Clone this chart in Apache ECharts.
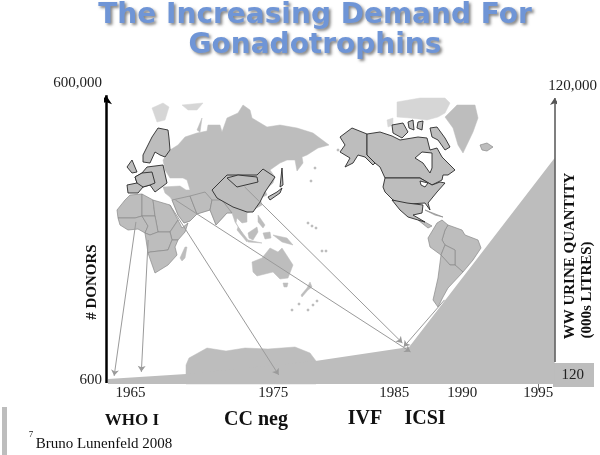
<!DOCTYPE html>
<html lang="en">
<head>
<meta charset="UTF-8">
<title>The Increasing Demand For Gonadotrophins</title>
<script src="https://cdn.jsdelivr.net/npm/echarts@6/dist/echarts.min.js"></script>
<style>
  html, body { margin: 0; padding: 0; background: #fff; }
  #chart { width: 600px; height: 455px; }
</style>
</head>
<body>
<div id="chart"></div>
<script>
var titleText = 'The Increasing Demand For\nGonadotrophins';
var xTickLabels = ['1965', '1975', '1985', '1990', '1995'];
// the slide's year axis is hand drawn, so the ticks are not evenly spaced
var xTickPlaces = [1964.8, 1975.3, 1984.2, 1989.2, 1994.8];
var donorTicks = [600, 600000];
var litreTicks = [120, 120000];
var milestones = ['WHO I', 'CC neg', 'IVF', 'ICSI'];

// urine quantity (000s litres, right axis)
var quantityYears = [1963.15, 1968.9, 1978.4, 1985.3, 1996];
var quantityValues = [109, 123, 168, 234, 21480];

// arrows from the map down to the time line: [from year, from donors, to year, to donors]
var arrowList = [
    [1965.2, 23660, 1963.6, 659],
    [1966.1, 15560, 1965.6, 723],
    [1967.7, 35150, 1975.7, 674],
    [1968.1, 39480, 1985.4, 1151],
    [1973.2, 53400, 1984.8, 1418],
    [1987.9, 3858, 1984.9, 1293]
];

// rough outlines of the background map
var asia = [[178,145],[185,137],[197,133],[207,131],[208,125],[220,125],[222,132],[227,118],[238,113],[243,105],[250,110],[252,118],[267,127],[280,125],[297,128],[313,133],[329,145],[318,148],[307,155],[302,157],[303,163],[297,171],[295,160],[287,160],[280,163],[270,170],[275,177],[273,183],[265,190],[267,195],[260,198],[262,205],[253,210],[250,212],[247,213],[247,222],[242,223],[237,218],[236,223],[242,233],[235,222],[232,213],[227,213],[216,225],[210,210],[197,214],[190,221],[184,223],[178,215],[172,200],[170,197],[165,193],[163,187],[180,186],[186,190],[190,190],[187,180],[183,178],[170,178],[165,170],[163,160],[170,150]];
var china = [[212,190],[227,175],[257,175],[263,169],[275,177],[265,192],[260,202],[253,212],[247,212],[233,207],[217,198]];
var mongolia = [[227,178],[238,175],[257,177],[258,182],[237,187]];
var arabia = [[172,200],[190,196],[197,214],[190,221],[184,223],[178,215]];
var iran = [[190,196],[205,192],[212,200],[210,210],[197,214]];
var india = [[210,210],[212,200],[222,200],[232,213],[227,213],[216,225]];
var scandinavia = [[143,155],[152,137],[158,128],[168,130],[169,138],[170,150],[165,157],[160,155],[155,152],[150,163],[143,162]];
var europe = [[147,167],[163,165],[167,183],[155,192],[150,185],[143,187],[138,193],[128,193],[127,185],[137,183],[135,177],[142,173]];
var germany = [[142,173],[152,172],[155,183],[150,185],[143,187],[137,183],[135,177]];
var britain = [[127,167],[132,160],[137,172],[132,173]];
var svalbard = [[152,108],[163,103],[169,107],[165,120],[157,122]];
var novaya = [[197,130],[202,118],[203,119],[200,132]];
var franzJosef = [[182,105],[203,103],[197,110],[188,110]];
var japan = [[268,197],[277,192],[282,188],[280,193],[270,200]];
var sakhalin = [[282,168],[283,185],[280,187]];

var afNorthWest = [[118,218],[117,210],[125,200],[130,195],[142,194],[142,216],[135,218]];
var afLibya = [[142,194],[153,200],[155,216],[142,216]];
var afSudan = [[153,200],[170,205],[178,220],[170,232],[158,232],[155,216]];
var afWest = [[118,218],[135,218],[142,216],[148,226],[145,233],[138,229],[128,230],[120,225]];
var afCentral = [[142,216],[155,216],[158,232],[150,235],[145,233],[148,226]];
var afHorn = [[170,232],[178,220],[182,228],[188,223],[185,232],[178,240],[172,240]];
var afCongo = [[145,233],[150,235],[158,232],[170,232],[172,240],[168,250],[150,252],[148,253]];
var afSouth = [[148,253],[150,252],[168,250],[172,240],[178,240],[175,247],[177,255],[168,265],[155,273]];
var madagascar = [[180,258],[185,247],[187,247],[185,258],[182,261]];

var sumatra = [[238,227],[248,240],[247,242],[237,230]];
var java = [[248,240],[262,243],[262,244],[248,242]];
var borneo = [[248,233],[257,227],[258,232],[253,240],[249,238]];
var philippines = [[258,215],[265,225],[263,228],[258,222]];
var sulawesi = [[263,233],[270,232],[271,238],[265,239]];
var newGuinea = [[273,235],[287,238],[293,245],[282,242]];
var australia = [[252,262],[262,258],[270,248],[278,252],[282,248],[293,265],[288,278],[280,279],[273,272],[257,276],[253,272]];
var tasmania = [[283,283],[288,283],[287,287],[284,287]];
var newZealand = [[310,282],[312,287],[308,290],[302,297],[301,295],[307,288]];
var pacificDots = [[292,310],[299,304],[308,310],[313,305],[317,301],[308,223],[312,226],[316,228],[322,251],[326,251],[338,150],[315,168],[311,181]];

var alaska = [[340,137],[352,128],[367,134],[367,155],[375,163],[373,165],[365,157],[358,155],[353,163],[345,167],[350,158],[340,152],[345,145]];
var canada = [[367,134],[380,132],[392,136],[400,140],[412,138],[418,137],[427,138],[430,150],[437,148],[442,157],[455,170],[448,175],[443,175],[442,180],[432,185],[420,178],[385,178],[380,167],[375,163],[367,155]];
var hudson = [[415,158],[422,152],[432,153],[432,168],[430,173],[423,163]];
var usa = [[385,178],[420,178],[432,185],[440,182],[445,183],[437,192],[428,203],[430,210],[425,203],[410,204],[405,205],[393,200],[385,192],[383,187]];
var lakes = [[420,181],[428,183],[425,187],[421,185]];
var baffin = [[430,128],[437,127],[445,138],[450,147],[445,150],[438,140],[432,137]];
var victoria = [[392,125],[403,123],[408,132],[402,138],[393,133]];
var arctic1 = [[408,122],[413,120],[414,130],[409,128]];
var arctic2 = [[418,122],[423,121],[422,130],[417,128]];
var arctic3 = [[387,120],[393,118],[393,125],[388,127]];
var arcticNorth = [[397,102],[420,98],[445,98],[450,103],[445,113],[438,117],[427,120],[410,118],[397,117]];
var greenland = [[445,117],[457,105],[475,105],[478,118],[473,132],[463,153],[458,145],[453,128]];
var iceland = [[480,145],[487,143],[493,147],[487,151],[482,150]];
var mexico = [[392,200],[407,203],[423,205],[422,213],[413,215],[425,222],[418,220],[408,217],[400,210]];
var cuba = [[425,210],[443,217],[435,215]];
var centralAm = [[418,220],[425,222],[432,226],[428,228]];
var brazil = [[448,225],[462,230],[465,235],[478,240],[481,248],[473,260],[463,272],[455,265],[455,250],[445,245],[442,240],[445,230]];
var andes = [[428,238],[437,223],[442,220],[448,225],[445,230],[442,240],[445,245],[441,255],[430,247]];
var bolivia = [[441,255],[445,245],[455,250],[455,265],[450,265]];
var argentina = [[441,255],[450,265],[455,265],[463,272],[448,288],[443,297],[438,307],[433,300],[438,278]];
var antarctica = [[186,384],[186,365],[189,358],[207,348],[226,351],[245,348],[268,349],[295,347],[310,353],[316,361],[316,384]];

// land with no visible border
var plainLand = {
    asia: asia, novaya: novaya, sumatra: sumatra, java: java, borneo: borneo, philippines: philippines,
    sulawesi: sulawesi, newGuinea: newGuinea, australia: australia, tasmania: tasmania, newZealand: newZealand,
    greenland: greenland, antarctica: antarctica, madagascar: madagascar
};
// the paler, broken up arctic islands
var paleLand = { svalbard: svalbard, franzJosef: franzJosef, arctic3: arctic3, arcticNorth: arcticNorth };
// countries with the thin gray borders
var borderLand = {
    arabia: arabia, iran: iran, india: india, afNorthWest: afNorthWest, afLibya: afLibya, afSudan: afSudan,
    afWest: afWest, afCentral: afCentral, afHorn: afHorn, afCongo: afCongo, afSouth: afSouth, iceland: iceland,
    cuba: cuba, centralAm: centralAm, brazil: brazil, andes: andes, bolivia: bolivia, argentina: argentina
};
// countries drawn with the heavy dark border on the slide
var darkLand = {
    china: china, mongolia: mongolia, scandinavia: scandinavia, europe: europe, germany: germany, britain: britain,
    japan: japan, sakhalin: sakhalin, alaska: alaska, canada: canada, usa: usa, mexico: mexico,
    baffin: baffin, victoria: victoria, arctic1: arctic1, arctic2: arctic2
};
var waterLand = { hudson: hudson, lakes: lakes };

var GRAY = '#bdbdbd';

pacificDots.forEach(function (p, i) {
    plainLand['dot' + i] = [[p[0] - 1, p[1] - 1], [p[0] + 1, p[1] - 1], [p[0] + 1, p[1] + 1], [p[0] - 1, p[1] + 1]];
});

function toFeatures(group) {
    return Object.keys(group).map(function (name) {
        var ring = group[name].map(function (p) { return [p[0], -p[1]]; });
        ring.push(ring[0]);
        return {
            type: 'Feature',
            properties: { name: name },
            geometry: { type: 'Polygon', coordinates: [ring] }
        };
    });
}

function regionStyle(group, style) {
    return Object.keys(group).map(function (name) {
        return { name: name, itemStyle: style, silent: true };
    });
}

echarts.registerMap('slideWorld', {
    type: 'FeatureCollection',
    features: toFeatures(plainLand).concat(toFeatures(paleLand)).concat(toFeatures(borderLand))
        .concat(toFeatures(darkLand)).concat(toFeatures(waterLand))
});

function slideText(text, x, y, size, extra) {
    var style = {
        text: text,
        font: (extra && extra.bold ? 'bold ' : '') + size + 'px "Liberation Serif"',
        fill: '#111',
        textAlign: 'center',
        textVerticalAlign: 'middle'
    };
    return { type: 'text', x: x, y: y, rotation: extra && extra.rotate ? Math.PI / 2 : 0, style: style, z: 10 };
}

var chart = echarts.init(document.getElementById('chart'));

chart.setOption({
    animation: false,
    backgroundColor: '#fff',
    title: {
        text: titleText,
        left: 310,
        top: -4,
        textAlign: 'center',
        textStyle: {
            fontFamily: 'DejaVu Sans',
            fontWeight: 'bold',
            fontSize: 28,
            lineHeight: 30,
            color: '#6f95d6',
            textShadowColor: 'rgba(70,70,70,0.65)',
            textShadowBlur: 3,
            textShadowOffsetX: 2,
            textShadowOffsetY: 2
        }
    },
    geo: {
        map: 'slideWorld',
        roam: false,
        silent: true,
        aspectScale: 1,
        left: 0,
        top: 0,
        width: 600,
        height: 455,
        boundingCoords: [[0, 0], [600, -455]],
        label: { show: false },
        itemStyle: { areaColor: GRAY, borderColor: GRAY, borderWidth: 0.5 },
        regions: regionStyle(darkLand, { areaColor: GRAY, borderColor: '#2a2a2a', borderWidth: 0.9 })
            .concat(regionStyle(borderLand, { areaColor: GRAY, borderColor: '#8a8a8a', borderWidth: 0.7 }))
            .concat(regionStyle(paleLand, { areaColor: '#d6d6d6', borderColor: '#d6d6d6', borderWidth: 0.5 }))
            .concat(regionStyle(waterLand, { areaColor: '#fff', borderColor: '#2a2a2a', borderWidth: 0.9 }))
    },
    grid: { left: 106, right: 44, top: 83, bottom: 71 },
    xAxis: {
        type: 'value',
        min: 1963,
        max: 1996,
        splitLine: { show: false },
        axisLine: { show: false },
        axisTick: {
            show: true,
            customValues: [xTickPlaces[4]],
            length: 6,
            lineStyle: { color: '#777' }
        },
        axisLabel: {
            customValues: xTickPlaces,
            margin: 2,
            fontFamily: 'Liberation Serif',
            fontSize: 15,
            color: '#222',
            formatter: function (v) {
                return xTickLabels[xTickPlaces.indexOf(v)];
            }
        }
    },
    yAxis: [{
        type: 'log',
        min: 545,
        max: 600000,
        splitLine: { show: false },
        axisLine: { show: false },
        axisTick: { show: false },
        axisLabel: {
            customValues: donorTicks,
            margin: 4,
            fontFamily: 'Liberation Serif',
            fontSize: 15,
            color: '#222',
            formatter: function (v) { return echarts.format.addCommas(Math.round(v)); }
        }
    }, {
        type: 'log',
        position: 'right',
        min: 96.7,
        max: 129100,
        splitLine: { show: false },
        axisLine: { show: false },
        axisTick: { show: false },
        axisLabel: {
            customValues: litreTicks,
            margin: 18,
            align: 'center',
            fontFamily: 'Liberation Serif',
            fontSize: 15,
            color: '#222',
            formatter: function (v) { return echarts.format.addCommas(Math.round(v)); }
        }
    }],
    series: [{
        type: 'line',
        yAxisIndex: 1,
        data: quantityYears.map(function (y, i) { return [y, quantityValues[i]]; }),
        showSymbol: false,
        lineStyle: { width: 0 },
        areaStyle: { color: GRAY, opacity: 1, origin: 'start' },
        z: 2
    }, {
        type: 'lines',
        coordinateSystem: 'cartesian2d',
        polyline: false,
        symbol: ['none', 'arrow'],
        symbolSize: 6,
        lineStyle: { color: '#9a9a9a', width: 1, opacity: 1 },
        data: arrowList.map(function (a) {
            return { coords: [[a[0], a[1]], [a[2], a[3]]] };
        }),
        z: 4
    }, {
        // donors axis, stops short of its label
        type: 'lines',
        coordinateSystem: 'cartesian2d',
        symbol: ['none', 'arrow'],
        symbolSize: 9,
        lineStyle: { color: '#000', width: 2.5, opacity: 1 },
        data: [{ coords: [[1963, 558], [1963, 452000]] }],
        z: 5
    }, {
        // litres axis
        type: 'lines',
        coordinateSystem: 'cartesian2d',
        yAxisIndex: 1,
        symbol: ['none', 'arrow'],
        symbolSize: 7,
        lineStyle: { color: '#555', width: 1.5, opacity: 1 },
        data: [{ coords: [[1996, 164], [1996, 90200]] }],
        z: 5
    }],
    graphic: [
        { type: 'rect', shape: { x: 553, y: 363, width: 41, height: 24 }, style: { fill: GRAY }, z: -1 },
        { type: 'rect', shape: { x: 2, y: 407, width: 5, height: 48 }, style: { fill: GRAY }, z: -1 },
        slideText('# DONORS', 92, 282, 15, { bold: true, rotate: true }),
        slideText('WW URINE QUANTITY', 570, 256, 15, { bold: true, rotate: true }),
        slideText('(000s LITRES)', 587, 290, 15, { bold: true, rotate: true }),
        slideText(milestones[0], 132, 421, 17, { bold: true }),
        slideText(milestones[1], 256, 420, 20, { bold: true }),
        slideText(milestones[2], 365, 419, 20, { bold: true }),
        slideText(milestones[3], 425, 419, 20, { bold: true }),
        slideText('7', 31, 435, 9),
        slideText('Bruno Lunenfeld 2008', 104, 444, 15)
    ]
});
</script>
</body>
</html>
